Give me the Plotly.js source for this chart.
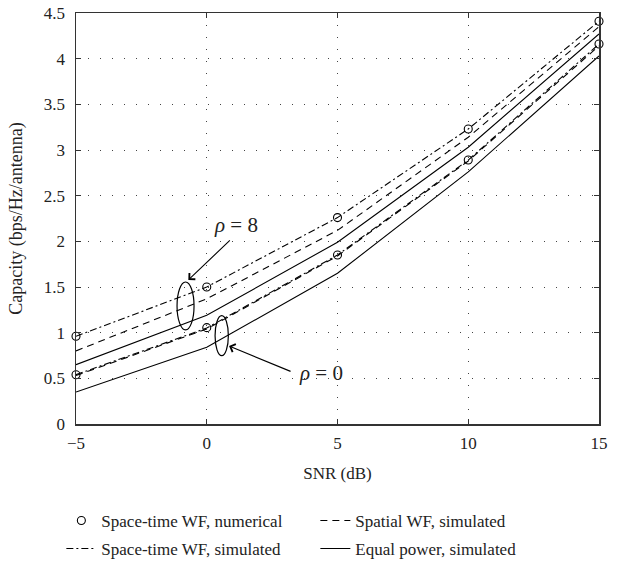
<!DOCTYPE html>
<html>
<head>
<meta charset="utf-8">
<script src="https://cdn.plot.ly/plotly-3.0.1.min.js"></script>
<style>html,body{margin:0;padding:0;background:#fff;}#chart{width:620px;height:562px;}</style>
</head>
<body>
<div id="chart"></div>
<script>
// SNR values (dB)
const snr = [-5, 0, 5, 10, 15];
// rho = 8
const stwfNumRho8 = [0.96, 1.50, 2.26, 3.23, 4.41];
const stwfSimRho8 = [0.96, 1.50, 2.26, 3.23, 4.41];
const spatialRho8 = [0.80, 1.37, 2.12, 3.14, 4.35];
const equalRho8   = [0.65, 1.19, 1.99, 3.03, 4.27];
// rho = 0
const stwfNumRho0 = [0.54, 1.055, 1.85, 2.89, 4.16];
const stwfSimRho0 = [0.54, 1.05, 1.85, 2.89, 4.16];
const spatialRho0 = [0.53, 1.04, 1.84, 2.88, 4.14];
const equalRho0   = [0.35, 0.84, 1.65, 2.76, 4.03];

const xTicks = [-5, 0, 5, 10, 15];
const yTicks = [0, 0.5, 1, 1.5, 2, 2.5, 3, 3.5, 4, 4.5];

const FONT = "'Liberation Serif', 'DejaVu Serif', serif";
const INK = '#222';
const DASH = '7px,5px';
const DASHDOT = '7px,3px,2px,3px';

function line(name, y, dash, legend, show) {
  return {x: snr, y: y, type: 'scatter', mode: 'lines', name: name,
    line: {color: '#000', width: 1.1, dash: dash},
    legend: legend, showlegend: show, hoverinfo: 'skip'};
}
function marks(name, y, legend, show) {
  return {x: snr, y: y, type: 'scatter', mode: 'markers', name: name,
    marker: {symbol: 'circle-open', size: 8, color: '#000', line: {width: 1.1, color: '#000'}},
    legend: legend, showlegend: show, hoverinfo: 'skip', cliponaxis: false};
}

const data = [
  marks('Space-time WF, numerical', stwfNumRho8, 'legend', true),
  line('Spatial WF, simulated', spatialRho8, DASH, 'legend', true),
  line('Space-time WF, simulated', stwfSimRho8, DASHDOT, 'legend2', true),
  line('Equal power, simulated', equalRho8, 'solid', 'legend2', true),
  line('Spatial WF, simulated', spatialRho0, DASH, 'legend', false),
  line('Space-time WF, simulated', stwfSimRho0, DASHDOT, 'legend2', false),
  line('Equal power, simulated', equalRho0, 'solid', 'legend2', false),
  marks('Space-time WF, numerical', stwfNumRho0, 'legend', false)
];

const axisCommon = {
  showline: true, linecolor: '#333', linewidth: 1.5, mirror: 'ticks',
  ticks: 'inside', ticklen: 5, tickcolor: '#333', tickwidth: 1,
  showgrid: true, gridcolor: '#444', gridwidth: 1, griddash: '1px,11px',
  zeroline: false, tickfont: {family: FONT, size: 17, color: INK}
};

const layout = {
  width: 620, height: 562,
  margin: {l: 76, r: 21, t: 13, b: 138, autoexpand: false},
  paper_bgcolor: '#fff', plot_bgcolor: '#fff',
  font: {family: FONT, size: 17, color: INK},
  xaxis: Object.assign({}, axisCommon, {
    range: [-5, 15], tickvals: xTicks, ticklabelstandoff: 3,
    title: {text: 'SNR (dB)', font: {family: FONT, size: 17, color: INK}, standoff: 15}
  }),
  yaxis: Object.assign({}, axisCommon, {
    range: [0, 4.5], tickvals: yTicks, ticklabelstandoff: 6,
    title: {text: 'Capacity (bps/Hz/antenna)', font: {family: FONT, size: 18, color: INK}, standoff: 16}
  }),
  legend: {orientation: 'h', x: -0.028, xanchor: 'left', y: -0.236, yanchor: 'middle',
    entrywidth: 209, font: {family: FONT, size: 17, color: INK}, bgcolor: 'rgba(0,0,0,0)'},
  legend2: {orientation: 'h', x: -0.028, xanchor: 'left', y: -0.304, yanchor: 'middle',
    entrywidth: 209, font: {family: FONT, size: 17, color: INK}, bgcolor: 'rgba(0,0,0,0)'},
  shapes: [
    {type: 'circle', xref: 'x', yref: 'y', x0: -1.136, x1: -0.486, y0: 1.03, y1: 1.555,
      line: {color: '#000', width: 1.2}},
    {type: 'circle', xref: 'x', yref: 'y', x0: 0.318, x1: 0.826, y0: 0.748, y1: 1.186,
      line: {color: '#000', width: 1.2}}
  ],
  annotations: [
    {x: -0.704, y: 1.577, xref: 'x', yref: 'y', text: '', showarrow: true,
      ax: 43, ay: -41, arrowhead: 4, arrowsize: 1.5, arrowwidth: 1.1, arrowcolor: '#000'},
    {x: 0.853, y: 0.854, xref: 'x', yref: 'y', text: '', showarrow: true,
      ax: 63, ay: 26, arrowhead: 4, arrowsize: 1.5, arrowwidth: 1.1, arrowcolor: '#000'},
    {x: 1.10, y: 2.18, xref: 'x', yref: 'y', text: '<i>ρ</i> = 8', showarrow: false,
      font: {family: FONT, size: 21, color: INK}},
    {x: 4.37, y: 0.56, xref: 'x', yref: 'y', text: '<i>ρ</i> = 0', showarrow: false,
      font: {family: FONT, size: 21, color: INK}}
  ]
};

Plotly.newPlot('chart', data, layout, {displayModeBar: false, staticPlot: true});
</script>
</body>
</html>
